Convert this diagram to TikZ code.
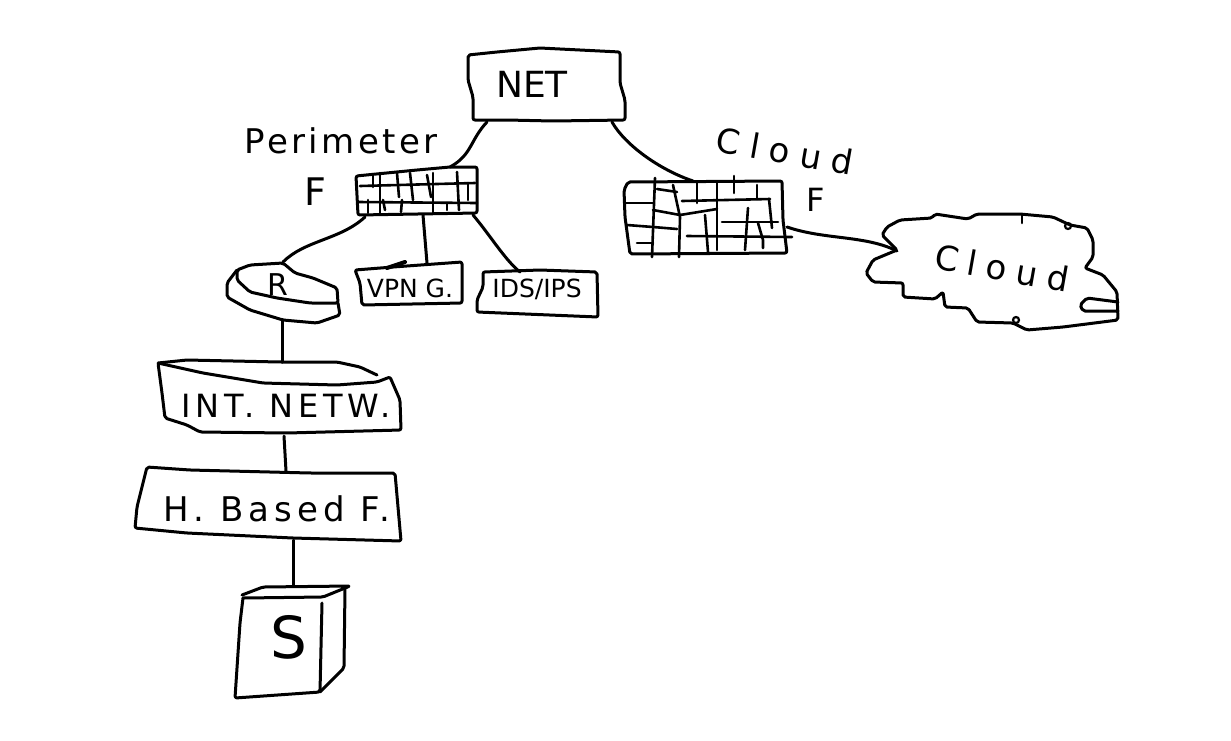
\documentclass[tikz,border=0pt]{standalone}
\usepackage{fontspec}
\setmainfont{DejaVu Sans}
\tikzset{
  pen/.style={line width=3pt, line join=round, line cap=round, rounded corners=2pt},
  grid line/.style={line width=2.6pt, line cap=round},
  lbl/.style={inner sep=0pt, font=\fontsize{#1}{#1}\selectfont},
}
\begin{document}
\begin{tikzpicture}[x=1pt,y=-1pt]
  \useasboundingbox (0,0) rectangle (1231,740);

  % Ends of the connectors
  \coordinate (netL) at (487,122);
  \coordinate (netR) at (612,122);
  \coordinate (perimT) at (450,167);
  \coordinate (perimL) at (365,217);
  \coordinate (perimM) at (423,215);
  \coordinate (perimR) at (473,215);
  \coordinate (routerT) at (283,262);
  \coordinate (routerB) at (282,320);
  \coordinate (vpnT) at (427,263);
  \coordinate (idsT) at (520,272);
  \coordinate (intT) at (282,362);
  \coordinate (intB) at (284,436);
  \coordinate (hostT) at (286,471);
  \coordinate (hostB) at (293,540);
  \coordinate (srvT) at (293,586);
  \coordinate (cfwT) at (693,181);
  \coordinate (cfwR) at (787,227);
  \coordinate (cloudL) at (897,251);

  % Net box
  \draw[pen] (468,55) -- (497,52) -- (540,48) -- (620,52) -- (620,83) -- (625,100) -- (625,120) -- (553,121) -- (507,120) -- (473,120) -- (473,97) -- (468,80) -- cycle;
  \node[lbl=36] (netlbl) at (532,84) {NET};

  % Perimeter firewall
  \draw[pen] (356,176) -- (417,170) -- (450,167) -- (477,167) -- (477,213) -- (358,215) -- cycle;
  \foreach \xa/\ya/\xb/\yb in {360/186/475/183, 358/202/477/203,
      373/174/373/187, 380/173/380/213, 397/173/399/197, 410/173/413/200, 427/175/431/197, 433/173/433/213,
      457/172/459/210, 468/183/468/200, 368/200/368/213, 383/200/385/210, 402/200/401/212, 447/203/447/210}
    \draw[grid line] (\xa,\ya) -- (\xb,\yb);
  \node[lbl=34] (perimlbl) at (341,141) {\addfontfeature{LetterSpace=10}Perimeter};
  \node[lbl=38] (perimf) at (315,192) {F};

  % Router
  \draw[pen] (237,270) -- (250,265) -- (283,263) -- (295,273) -- (313,278) -- (337,288) -- (338,303) -- (310,303) -- (277,298) -- (250,292) -- (237,280) -- cycle;
  \draw[pen] (237,270) -- (227,283) -- (227,297) -- (250,310) -- (283,320) -- (317,323) -- (340,315) -- (338,303);
  \node[lbl=30] (routerlbl) at (278,285) {R};

  % VPN box
  \draw[pen] (355,270) -- (393,267) -- (462,262) -- (462,303) -- (362,305) -- (360,283) -- cycle;
  \draw[line width=4pt, line cap=round] (387,268) -- (405,262);
  \node[lbl=25] (vpnlbl) at (410,288) {VPN G.};

  % IDS and IPS box
  \draw[pen] (483,272) -- (540,270) -- (597,272) -- (598,317) -- (477,312) -- (477,300) -- (483,287) -- cycle;
  \node[lbl=25] (idslbl) at (537,289) {IDS/IPS};

  % Inner network
  \draw[pen] (158,363) -- (187,360) -- (280,362) -- (337,362) -- (360,367) -- (377,375);
  \draw[pen] (158,363) -- (203,373) -- (263,383) -- (337,385) -- (377,382) -- (390,377) -- (400,400) -- (401,430) -- (287,433) -- (200,432) -- (187,425) -- (165,418) -- (162,393) -- cycle;
  \node[lbl=32] (intlbl) at (286,406) {\addfontfeature{LetterSpace=15}INT. NETW.};

  % Host based firewall
  \draw[pen] (147,467) -- (190,470) -- (310,473) -- (395,473) -- (398,507) -- (401,541) -- (293,538) -- (187,533) -- (135,528) -- (137,507) -- cycle;
  \node[lbl=34] (hostlbl) at (277,509) {\addfontfeature{LetterSpace=15}H. Based F.};

  % Server
  \draw[pen] (242,595) -- (263,587) -- (350,586) -- (323,597) -- (243,598);
  \draw[pen] (243,598) -- (240,623) -- (235,698) -- (320,692) -- (322,603);
  \draw[pen] (345,588) -- (344,668) -- (320,692);
  \node[lbl=58] (srvlbl) at (289,637) {S};

  % Cloud firewall
  \draw[pen] (628,182) -- (782,181) -- (783,220) -- (787,253) -- (630,254) -- (625,217) -- (624,190) -- cycle;
  \foreach \xa/\ya/\xb/\yb in {625/203/653/203, 655/178/652/257, 657/189/677/192, 682/201/770/199,
      717/182/717/250, 697/182/697/203, 734/176/734/193, 757/185/757/199, 769/199/772/228,
      722/222/778/222, 705/215/708/252, 687/236/792/237, 748/208/745/250, 637/243/653/243}
    \draw[grid line] (\xa,\ya) -- (\xb,\yb);
  \draw[grid line] (673,185) -- (680,217) -- (679,257);
  \draw[grid line] (653,210) -- (680,215) -- (717,209);
  \draw[grid line] (627,225) -- (653,227) -- (677,229);
  \draw[grid line] (758,223) -- (763,240) -- (763,248);
  \node[lbl=34, rotate=-10] (cfwlbl) at (785,151) {\addfontfeature{LetterSpace=30}Cloud};
  \node[lbl=32] (cfwf) at (816,200) {F};

  % Cloud
  \draw[pen] (897,250) -- (882,235) -- (887,227) -- (900,220) -- (932,218) -- (935,214) -- (968,219) -- (977,214) -- (1020,214) -- (1053,217) -- (1070,225) -- (1087,228) -- (1093,240) -- (1093,257) -- (1085,268) -- (1103,275) -- (1117,292) -- (1118,320) -- (1063,327) -- (1027,330) -- (1013,323) -- (977,322) -- (968,308) -- (945,307) -- (943,292) -- (935,299) -- (903,297) -- (903,283) -- (873,282) -- (866,273) -- (873,260) -- cycle;
  \draw[pen] (1118,302) -- (1087,298) -- (1080,305) -- (1083,311) -- (1118,311);
  \draw[grid line] (1022,215) -- (1022,223);
  \draw[line width=2.2pt] (1068,226) circle (3);
  \draw[line width=2.2pt] (1016,320) circle (3);
  \node[lbl=34, rotate=-10] (cloudlbl) at (1002,268) {\addfontfeature{LetterSpace=28}Cloud};

  % Connectors
  \draw[pen] (netL) .. controls (470,140) and (472,155) .. (perimT);
  \draw[pen] (netR) .. controls (625,145) and (660,170) .. (cfwT);
  \draw[pen] (perimL) .. controls (340,240) and (305,240) .. (routerT);
  \draw[pen] (perimM) -- (vpnT);
  \draw[pen] (perimR) .. controls (490,235) and (505,260) .. (idsT);
  \draw[pen] (routerB) -- (intT);
  \draw[pen] (intB) -- (hostT);
  \draw[pen] (hostB) -- (srvT);
  \draw[pen] (cfwR) .. controls (825,240) and (865,235) .. (cloudL);
\end{tikzpicture}
\end{document}
